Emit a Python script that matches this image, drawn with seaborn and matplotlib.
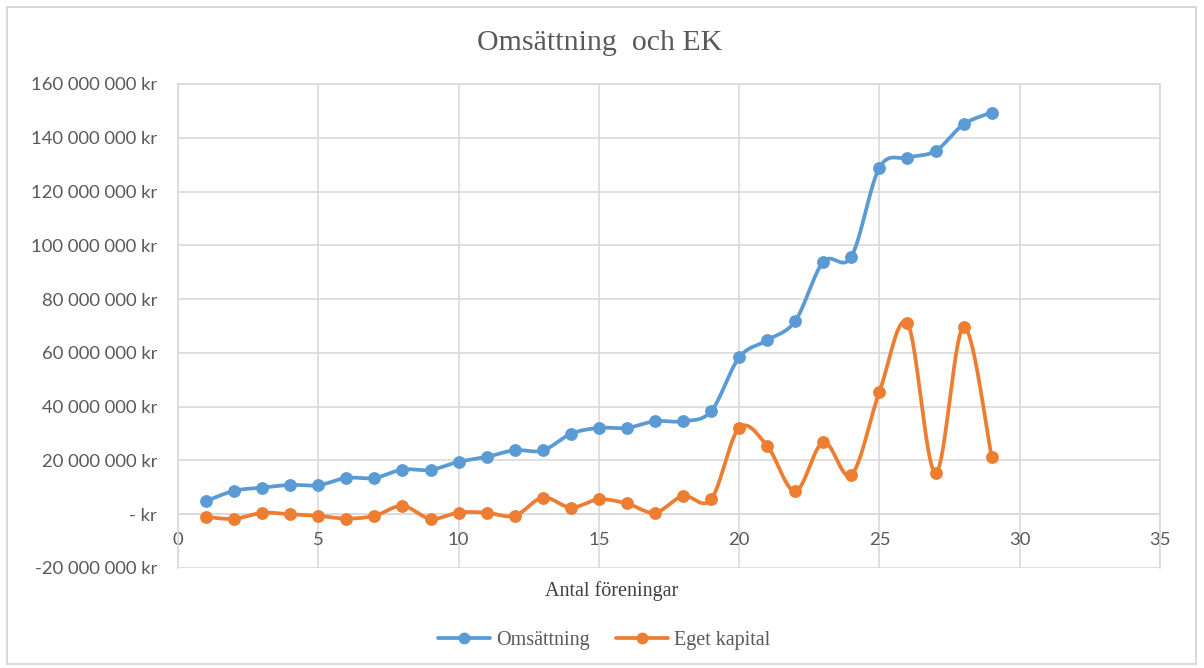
import numpy as np
import pandas as pd
import matplotlib
matplotlib.use("Agg")
import matplotlib.pyplot as plt
from matplotlib.lines import Line2D
from matplotlib.patches import Rectangle
from matplotlib.ticker import FuncFormatter
import seaborn as sns

# Data: number of associations vs. turnover and equity (SEK)
foreningar = list(range(1, 30))
omsattning = [4.9e6, 8.7e6, 9.9e6, 10.9e6, 10.8e6, 13.5e6, 13.5e6, 16.6e6, 16.5e6, 19.5e6,
              21.3e6, 23.8e6, 23.7e6, 29.9e6, 32.1e6, 32.1e6, 34.6e6, 34.6e6, 38.3e6, 58.3e6,
              64.7e6, 71.9e6, 93.9e6, 95.8e6, 128.9e6, 132.6e6, 135.1e6, 145.0e6, 149.4e6]
eget_kapital = [-1.0e6, -1.7e6, 0.5e6, 0.0e6, -0.6e6, -1.6e6, -0.6e6, 3.1e6, -1.7e6, 0.6e6,
                0.6e6, -0.6e6, 6.2e6, 2.5e6, 5.5e6, 4.0e6, 0.6e6, 6.8e6, 5.5e6, 32.1e6,
                25.4e6, 8.6e6, 26.8e6, 14.6e6, 45.5e6, 71.0e6, 15.3e6, 69.7e6, 21.3e6]

series_names = ["Omsättning", "Eget kapital"]
series_colors = ["#5B9BD5", "#ED7D31"]
title_text = "Omsättning  och EK"
xlabel_text = "Antal föreningar"


def smooth_curve(x, y, steps=30):
    """Cubic Bezier smoothing through every point (Catmull-Rom style)."""
    x = np.asarray(x, float)
    y = np.asarray(y, float)
    n = len(x)
    xs, ys = [], []
    t = np.linspace(0, 1, steps, endpoint=False)
    for i in range(n - 1):
        i0, i3 = max(i - 1, 0), min(i + 2, n - 1)
        p0 = np.array([x[i], y[i]])
        p3 = np.array([x[i + 1], y[i + 1]])
        c1 = p0 + (p3 - np.array([x[i0], y[i0]])) / 6.0
        c2 = p3 - (np.array([x[i3], y[i3]]) - p0) / 6.0
        b = ((1 - t) ** 3)[:, None] * p0 + (3 * (1 - t) ** 2 * t)[:, None] * c1 \
            + (3 * (1 - t) * t ** 2)[:, None] * c2 + (t ** 3)[:, None] * p3
        xs.append(b[:, 0])
        ys.append(b[:, 1])
    xs.append([x[-1]])
    ys.append([y[-1]])
    return np.concatenate(xs), np.concatenate(ys)


sns.set_theme(style="white")
plt.rcParams["font.family"] = ["Lato", "DejaVu Sans"]

fig = plt.figure(figsize=(12.04, 6.68), dpi=100)
ax = fig.add_axes([178 / 1204, 1 - 568 / 668, 982 / 1204, 484 / 668])

grid_color = "#D9D9D9"
text_gray = "#595959"

for name, vals, col in zip(series_names, [omsattning, eget_kapital], series_colors):
    cx, cy = smooth_curve(foreningar, vals)
    sns.lineplot(x=cx, y=cy, ax=ax, color=col, linewidth=2.7, sort=False,
                 estimator=None, zorder=3)
    df = pd.DataFrame({"x": foreningar, "y": vals})
    sns.scatterplot(data=df, x="x", y="y", ax=ax, color=col, s=85,
                    edgecolor=col, linewidth=0, zorder=4)

ax.set_xlim(0, 35)
ax.set_ylim(-20e6, 160e6)
ax.set_xticks(np.arange(0, 36, 5))
ax.set_yticks(np.arange(-20e6, 160e6 + 1, 20e6))


def kr_fmt(v, pos):
    if abs(v) < 1:
        return "- kr"
    s = f"{abs(int(round(v))):,}".replace(",", " ")
    return ("-" if v < 0 else "") + s + " kr"


ax.yaxis.set_major_formatter(FuncFormatter(kr_fmt))
ax.grid(True, color=grid_color, linewidth=1.2)
ax.set_axisbelow(True)

for side in ["left", "right", "top", "bottom"]:
    ax.spines[side].set_visible(True)
    ax.spines[side].set_color(grid_color)
    ax.spines[side].set_linewidth(1.2)
ax.spines["bottom"].set_position(("data", 0))

ax.tick_params(axis="x", length=0, pad=13, labelsize=13.3, labelcolor=text_gray)
ax.tick_params(axis="y", length=0, pad=15, labelsize=13.3, labelcolor=text_gray)
ax.set_xlabel("")
ax.set_ylabel("")

serif = ["Liberation Serif", "DejaVu Serif"]
fig.text(600 / 1204, 1 - 43 / 668, title_text, ha="center", va="center",
         fontsize=21.5, color=text_gray, family=serif)
fig.text(612 / 1204, 1 - 591 / 668, xlabel_text, ha="center", va="center",
         fontsize=14.5, color="#404040", family=serif)

handles = [Line2D([0], [0], color=c, linewidth=2.7, marker="o", markersize=7.5)
           for c in series_colors]
fig.legend(handles, series_names, loc="center", bbox_to_anchor=(604 / 1204, 1 - 640 / 668),
           ncol=2, frameon=False, handlelength=2.6, handletextpad=0.3, columnspacing=1.3,
           prop={"family": serif, "size": 14.5}, labelcolor=text_gray)

# Chart frame
fig.patches.append(Rectangle((7 / 1204, 4 / 668), 1189 / 1204, 657 / 668,
                             transform=fig.transFigure, fill=False,
                             edgecolor="#D9D9D9", linewidth=1.5))

fig.savefig("out.png", dpi=100, facecolor="white")
